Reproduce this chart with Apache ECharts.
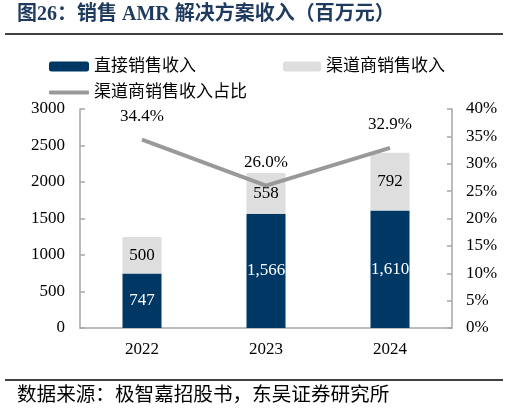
<!DOCTYPE html>
<html><head><meta charset="utf-8">
<script src="https://cdn.jsdelivr.net/npm/echarts@6/dist/echarts.min.js"></script>
<style>html,body{margin:0;padding:0;background:#fff}#c{width:509px;height:414px}</style>
</head><body><div id="c"></div>
<script>
const categories = ['2022', '2023', '2024'];
const directSales = [747, 1566, 1610];
const channelSales = [500, 558, 792];
const channelShare = [34.4, 26.0, 32.9];
const leftTicks = { min: 0, max: 3000, interval: 500 };
const rightTicks = { min: 0, max: 40, interval: 5 };

const FONT = "'Liberation Serif', 'Noto Sans CJK SC', serif";
const AXIS_COLOR = '#a6a6a6';
const LINE_COLOR = '#999999';
const chart = echarts.init(document.getElementById('c'), null, { renderer: 'canvas' });
chart.setOption({
  animation: false,
  textStyle: { fontFamily: FONT },
  graphic: [
    { type: 'text', left: 17, top: 5, style: { text: '图26：销售 AMR 解决方案收入（百万元）', font: "bold 20px 'Liberation Serif', 'Noto Sans CJK SC'", fill: '#1f3a5f' } },
    { type: 'line', shape: { x1: 5, y1: 34, x2: 503, y2: 34 }, style: { stroke: '#000', lineWidth: 1.5 } },
    { type: 'line', shape: { x1: 5, y1: 380, x2: 503, y2: 380 }, style: { stroke: '#000', lineWidth: 1.5 } },
    { type: 'text', left: 17, top: 386, style: { text: '数据来源：极智嘉招股书，东吴证券研究所', font: "19.6px 'Liberation Serif', 'Noto Sans CJK SC'", fill: '#000' } }
  ],
  legend: [
    { data: ['直接销售收入'], left: 44, top: 53, itemWidth: 40, itemHeight: 10, textStyle: { fontSize: 17, color: '#000', fontFamily: FONT }, selectedMode: false },
    { data: ['渠道商销售收入'], left: 278, top: 53, itemWidth: 38, itemHeight: 10, textStyle: { fontSize: 17, color: '#000', fontFamily: FONT }, selectedMode: false },
    { data: [{ name: '渠道商销售收入占比', icon: 'roundRect', itemStyle: { color: LINE_COLOR, opacity: 1 } }], left: 44, top: 79, itemWidth: 40, itemHeight: 4, textStyle: { fontSize: 17, color: '#000', fontFamily: FONT }, selectedMode: false }
  ],
  grid: { left: 80, right: 57, top: 109, bottom: 86, containLabel: false },
  xAxis: {
    type: 'category', data: categories,
    axisLine: { lineStyle: { color: AXIS_COLOR, width: 1.5 } },
    axisTick: { show: false },
    axisLabel: { color: '#000', fontSize: 17, margin: 13, fontFamily: FONT }
  },
  yAxis: [
    { type: 'value', min: leftTicks.min, max: leftTicks.max, interval: leftTicks.interval,
      axisLine: { show: true, lineStyle: { color: AXIS_COLOR, width: 1.5 } },
      axisTick: { show: true, inside: true, length: 5, lineStyle: { color: AXIS_COLOR, width: 1.5 } },
      splitLine: { show: false },
      axisLabel: { color: '#000', fontSize: 17, margin: 15, fontFamily: FONT, formatter: v => String(v) } },
    { type: 'value', min: rightTicks.min, max: rightTicks.max, interval: rightTicks.interval, position: 'right',
      axisLine: { show: true, lineStyle: { color: AXIS_COLOR, width: 1.5 } },
      axisTick: { show: true, inside: true, length: 5, lineStyle: { color: AXIS_COLOR, width: 1.5 } },
      splitLine: { show: false },
      axisLabel: { color: '#000', fontSize: 17, margin: 14, formatter: '{value}%', fontFamily: FONT } }
  ],
  series: [
    { name: '直接销售收入', type: 'bar', stack: 'rev', data: directSales, barWidth: 39,
      itemStyle: { color: '#003865' },
      label: { show: true, position: 'inside', color: '#fff', fontSize: 17, fontFamily: FONT,
        formatter: p => p.value.toLocaleString('en-US') } },
    { name: '渠道商销售收入', type: 'bar', stack: 'rev', data: channelSales, barWidth: 39,
      itemStyle: { color: '#dedede' },
      label: { show: true, position: 'inside', color: '#000', fontSize: 17, fontFamily: FONT } },
    { name: '渠道商销售收入占比', type: 'line', yAxisIndex: 1, data: channelShare,
      symbol: 'circle', symbolSize: 2, showSymbol: true, z: 5,
      lineStyle: { color: LINE_COLOR, width: 4 },
      itemStyle: { color: 'rgba(0,0,0,0)', borderWidth: 0 },
      label: { show: true, position: 'top', distance: 14, color: '#000', fontSize: 17, fontFamily: FONT,
        formatter: p => p.value.toFixed(1) + '%' } }
  ]
});
</script></body></html>
